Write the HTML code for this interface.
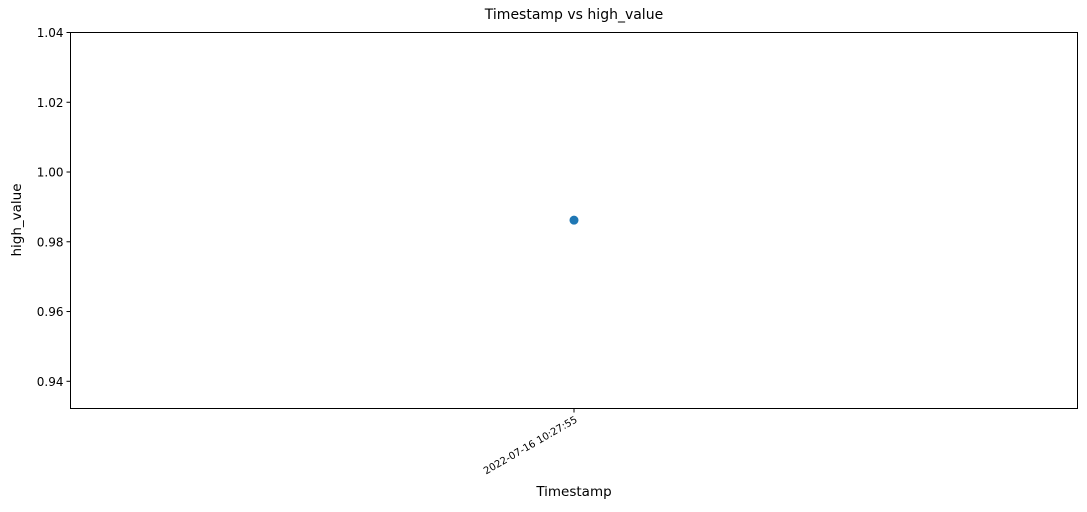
<!DOCTYPE html>
<html><head><meta charset="utf-8"><style>
body{margin:0;background:#fff;font-family:"DejaVu Sans","Liberation Sans",sans-serif}
</style></head><body>
<svg id="chart" width="1087" height="508" xmlns="http://www.w3.org/2000/svg" font-family="DejaVu Sans, Liberation Sans, sans-serif">
<text x="574" y="19" text-anchor="middle" font-size="14">Timestamp vs high_value</text>
<rect x="70.5" y="32.5" width="1007" height="376" fill="none" stroke="#000" stroke-width="1"/>
<g id="yticks"></g><g id="xticks"></g><g id="marks"></g>
<text x="574" y="496" text-anchor="middle" font-size="13.5">Timestamp</text>
<text transform="translate(21,220) rotate(-90)" text-anchor="middle" font-size="13.5">high_value</text>
</svg>
<script>
const categories=["2022-07-16 10:27:55"];
const values=[0.9862];
const yTicks=[0.94,0.96,0.98,1.00,1.02,1.04];
const yMin=0.9322,yMax=1.04;
const L=70.5,R=1077.5,T=32.5,B=408.5;
const NS="http://www.w3.org/2000/svg";
function y(v){return B-(v-yMin)/(yMax-yMin)*(B-T);}
function x(i){return L+(i+0.5)*(R-L)/categories.length;}
const yg=document.getElementById('yticks');
yTicks.forEach(t=>{
 const l=document.createElementNS(NS,'line');
 l.setAttribute('x1',L-4);l.setAttribute('x2',L);l.setAttribute('y1',y(t));l.setAttribute('y2',y(t));l.setAttribute('stroke','#000');
 
 
 yg.appendChild(l);
 const tx=document.createElementNS(NS,'text');
 tx.setAttribute('x',L-7);tx.setAttribute('y',y(t)+4.5);tx.setAttribute('text-anchor','end');tx.setAttribute('font-size','12');
 tx.textContent=t.toFixed(2);
 
 
 yg.appendChild(tx);
});
const xg=document.getElementById('xticks');
categories.forEach((c,i)=>{
 const l=document.createElementNS(NS,'line');
 l.setAttribute('x1',x(i));l.setAttribute('x2',x(i));l.setAttribute('y1',B);l.setAttribute('y2',B+4);l.setAttribute('stroke','#000');
 
 
 xg.appendChild(l);
 const tx=document.createElementNS(NS,'text');
 tx.setAttribute('transform','translate('+(x(i)+4)+','+(B+13)+') rotate(-30)');
 tx.setAttribute('text-anchor','end');tx.setAttribute('font-size','10');
 tx.textContent=c;
 
 
 xg.appendChild(tx);
});
const mg=document.getElementById('marks');
values.forEach((v,i)=>{
 const p=document.createElementNS(NS,'circle');
 p.setAttribute('cx',x(i));p.setAttribute('cy',y(v));p.setAttribute('r','4.5');p.setAttribute('fill','#1f77b4');
 
 
 mg.appendChild(p);
});
</script>
</body></html>
